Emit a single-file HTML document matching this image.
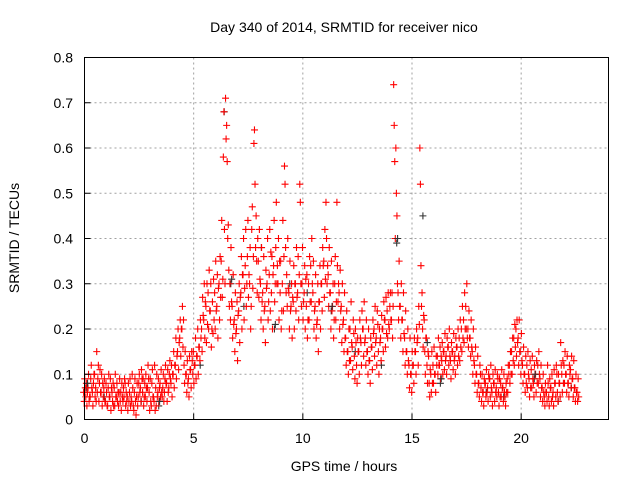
<!DOCTYPE html>
<html><head><meta charset="utf-8"><style>
html,body{margin:0;padding:0;background:#fff}
svg{display:block;font-family:"Liberation Sans",sans-serif}
</style></head><body>
<svg id="chart" width="640" height="480" viewBox="0 0 640 480">
<rect width="640" height="480" fill="#fff"/>
<text x="344" y="32" text-anchor="middle" font-size="14">Day 340 of 2014, SRMTID for receiver nico</text>
<g id="grid"></g>
<g id="pts"></g>
<rect x="84.5" y="57.5" width="524" height="362" fill="none" stroke="#000" stroke-width="1"/>
<g id="ticks"></g>
<text x="344" y="471" text-anchor="middle" font-size="14">GPS time / hours</text>
<text transform="translate(19,238) rotate(-90)" text-anchor="middle" font-size="14">SRMTID / TECUs</text>
</svg>
<script>
const xTicks=[0,5,10,15,20];
const yTicks=[0,0.1,0.2,0.3,0.4,0.5,0.6,0.7,0.8];
const yTickLabels=["0","0.1","0.2","0.3","0.4","0.5","0.6","0.7","0.8"];
const redStep=0.1;
const redValues=[
[.06,.04,.09,.07],[.05,.08,.03,.06],[.07,.1,.04,.05],[.05,.09,.12,.07],[.06,.03,.08,.1],[.1,.05,.07,.04],[.15,.06,.09,.12],[.04,.08,.11,.06],[.06,.1,.03,.08],[.05,.07,.09,.04],
[.04,.08,.06,.03],[.03,.07,.1,.05],[.05,.09,.02,.07],[.06,.04,.08,.03],[.07,.03,.1,.05],[.05,.08,.04,.06],[.03,.06,.09,.04],[.06,.02,.08,.05],[.04,.07,.05,.09],[.08,.03,.06,.04],
[.05,.02,.08,.04],[.06,.09,.03,.05],[.04,.1,.07,.03],[.02,.06,.09,.04],[.01,.05,.08,.03],[.05,.08,.1,.06],[.07,.04,.11,.09],[.06,.09,.03,.05],[.08,.05,.1,.07],[.04,.07,.12,.09],
[.06,.02,.09,.04],[.03,.08,.11,.05],[.05,.04,.12,.02],[.07,.03,.1,.05],[.06,.09,.04,.07],[.08,.05,.11,.06],[.05,.07,.1,.04],[.06,.09,.12,.08],[.08,.04,.11,.06],[.07,.1,.13,.09],
[.08,.12,.05,.1],[.1,.15,.07,.12],[.12,.18,.09,.14],[.15,.2,.11,.17],[.18,.22,.14,.2],[.2,.25,.16,.22],[.12,.08,.15,.1],[.1,.06,.13,.08],[.09,.05,.14,.11],[.11,.07,.15,.13],
[.1,.15,.08,.12],[.12,.18,.09,.14],[.14,.2,.1,.16],[.16,.13,.22,.18],[.2,.15,.27,.23],[.22,.3,.18,.26],[.25,.17,.3,.21],[.28,.2,.33,.24],[.24,.3,.16,.2],[.26,.19,.31,.22],
[.28,.2,.35,.24],[.25,.32,.18,.29],[.3,.22,.36,.27],[.35,.44,.27,.31],[.58,.68,.42,.3],[.71,.62,.65,.57],[.4,.43,.33,.25],[.3,.22,.38,.26],[.25,.18,.32,.21],[.22,.15,.28,.19],
[.2,.26,.13,.23],[.24,.3,.17,.27],[.28,.36,.2,.32],[.32,.4,.22,.29],[.34,.42,.25,.3],[.36,.44,.27,.32],[.3,.38,.2,.25],[.42,.47,.29,.36],[.61,.64,.52,.38],[.45,.35,.28,.4],
[.35,.27,.42,.31],[.3,.22,.38,.26],[.28,.2,.36,.24],[.25,.17,.33,.29],[.3,.4,.22,.26],[.32,.42,.24,.37],[.28,.36,.2,.32],[.34,.44,.26,.3],[.38,.48,.3,.34],[.3,.4,.22,.35],
[.28,.35,.2,.24],[.3,.44,.24,.36],[.56,.52,.38,.28],[.32,.25,.4,.29],[.28,.2,.35,.24],[.25,.3,.18,.27],[.26,.34,.2,.3],[.3,.24,.38,.27],[.28,.36,.22,.32],[.52,.48,.3,.25],
[.3,.38,.22,.26],[.28,.34,.2,.31],[.25,.32,.18,.22],[.3,.22,.36,.26],[.34,.26,.4,.3],[.28,.35,.2,.24],[.25,.32,.18,.21],[.22,.3,.15,.26],[.26,.34,.2,.3],[.3,.24,.38,.34],
[.35,.27,.42,.31],[.48,.4,.3,.34],[.32,.25,.38,.28],[.28,.2,.35,.24],[.25,.3,.18,.22],[.3,.36,.22,.26],[.48,.34,.26,.3],[.28,.2,.33,.24],[.25,.17,.3,.21],[.22,.15,.28,.18],
[.18,.12,.24,.15],[.15,.1,.2,.13],[.2,.13,.26,.17],[.16,.11,.22,.19],[.14,.09,.2,.17],[.12,.08,.18,.15],[.15,.1,.22,.18],[.17,.12,.24,.2],[.2,.14,.26,.17],[.18,.12,.22,.15],
[.15,.1,.2,.13],[.13,.08,.18,.16],[.16,.11,.22,.19],[.2,.14,.25,.17],[.18,.12,.24,.21],[.15,.1,.2,.17],[.18,.13,.23,.2],[.2,.15,.26,.22],[.22,.16,.27,.19],[.24,.18,.28,.21],
[.2,.25,.28,.22],[.22,.28,.18,.25],[.74,.65,.57,.4],[.6,.5,.45,.3],[.28,.22,.35,.25],[.25,.18,.3,.22],[.22,.15,.28,.19],[.18,.12,.24,.15],[.15,.1,.2,.13],[.12,.07,.18,.1],
[.1,.06,.15,.12],[.12,.08,.18,.15],[.15,.1,.2,.17],[.18,.12,.25,.21],[.6,.52,.34,.25],[.28,.2,.16,.23],[.22,.15,.1,.18],[.18,.12,.08,.15],[.14,.08,.05,.11],[.1,.06,.15,.08],
[.12,.08,.16,.1],[.1,.06,.14,.12],[.14,.1,.18,.12],[.12,.16,.09,.14],[.13,.17,.1,.15],[.15,.11,.19,.13],[.14,.1,.18,.16],[.16,.12,.2,.14],[.13,.09,.17,.15],[.15,.11,.19,.13],
[.14,.1,.18,.16],[.16,.12,.2,.14],[.18,.13,.22,.16],[.2,.15,.25,.18],[.22,.17,.28,.2],[.25,.2,.3,.18],[.2,.16,.24,.18],[.18,.14,.22,.16],[.15,.1,.2,.13],[.12,.08,.16,.1],
[.1,.06,.14,.08],[.08,.05,.12,.1],[.07,.04,.1,.06],[.06,.03,.09,.08],[.08,.05,.11,.06],[.07,.04,.1,.09],[.09,.05,.12,.07],[.06,.03,.1,.08],[.08,.04,.11,.06],[.07,.05,.1,.09],
[.06,.03,.09,.05],[.08,.05,.11,.07],[.07,.04,.1,.06],[.05,.03,.08,.06],[.09,.06,.12,.1],[.12,.08,.15,.1],[.15,.1,.18,.13],[.18,.12,.21,.16],[.2,.14,.22,.17],[.18,.12,.22,.15],
[.15,.1,.19,.13],[.12,.08,.16,.1],[.1,.06,.14,.08],[.12,.07,.15,.1],[.09,.05,.13,.07],[.11,.07,.14,.09],[.08,.05,.12,.1],[.1,.06,.13,.08],[.12,.08,.15,.1],[.09,.05,.12,.07],
[.07,.04,.1,.06],[.05,.03,.08,.06],[.06,.04,.12,.08],[.05,.03,.09,.07],[.07,.04,.1,.05],[.06,.03,.11,.08],[.08,.05,.12,.1],[.06,.04,.1,.08],[.08,.05,.17,.12],[.1,.06,.13,.08],
[.12,.08,.15,.1],[.1,.06,.14,.08],[.08,.05,.12,.1],[.11,.07,.14,.09],[.09,.05,.13,.07],[.07,.04,.1,.06],[.06,.04,.09,.05]
];
const blackTimes=[0.1,0.9,2.6,3.4,5.3,6.4,6.7,7.3,8.1,8.7,9.4,10.2,11.3,12.4,13.6,14.3,15.5,15.7,16.3,18.4,19.2,20.6,21.7,22.3];
const blackValues=[0.07,0.05,0.04,0.03,0.12,0.68,0.3,0.25,0.38,0.2,0.3,0.28,0.24,0.15,0.12,0.39,0.45,0.17,0.08,0.06,0.05,0.09,0.04,0.07];

const NS="http://www.w3.org/2000/svg";
const X0=84.5,XW=524,XMAX=24,Y0=419.5,YH=362,YMAX=0.8;
function xs(t){return X0+t/XMAX*XW;}
function ys(v){return Y0-v/YMAX*YH;}
const grid=document.getElementById('grid'),ticks=document.getElementById('ticks'),pts=document.getElementById('pts');
function ln(p,x1,y1,x2,y2,st,dash){const l=document.createElementNS(NS,'line');l.setAttribute('x1',x1);l.setAttribute('y1',y1);l.setAttribute('x2',x2);l.setAttribute('y2',y2);l.setAttribute('stroke',st);if(dash)l.setAttribute('stroke-dasharray',dash);p.appendChild(l);return l;}
function tx(p,x,y,s,anchor){const t=document.createElementNS(NS,'text');t.setAttribute('x',x);t.setAttribute('y',y);t.setAttribute('text-anchor',anchor);t.setAttribute('font-size','14');t.textContent=s;p.appendChild(t);return t;}
xTicks.forEach(v=>{const x=xs(v);
 if(v>0){const g=ln(grid,x,57.5,x,419.5,'#a0a0a0','2,3');
 
 }
 const tk=ln(ticks,x,419.5,x,413.5,'#000');
 
 
 const lb=tx(ticks,x,443,String(v),'middle');
 
 
});
yTicks.forEach((v,i)=>{const y=ys(v);
 if(i>0&&i<yTicks.length-1){const g=ln(grid,84.5,y,608.5,y,'#a0a0a0','2,3');
 
 }
 const tk=ln(ticks,84.5,y,90.5,y,'#000');
 
 
 const lb=tx(ticks,73,y+5,yTickLabels[i],'end');
 
 
});
function plus(t,v,col){const x=xs(t),y=ys(v);const p=document.createElementNS(NS,'path');
 p.setAttribute('d','M'+(x-3.5)+' '+y+'h7M'+x+' '+(y-3.5)+'v7');p.setAttribute('stroke',col);p.setAttribute('fill','none');p.setAttribute('stroke-width','1.1');pts.appendChild(p);return p;}
blackTimes.forEach((t,i)=>{
 const p=plus(t,blackValues[i],'#333');
 
 
});
redValues.forEach((grp,i)=>{grp.forEach((v,j)=>{
 const p=plus(i*redStep+(j/grp.length-0.4)*redStep,v,'#ff0000');
 
 
});});
blackTimes.forEach((t,i)=>{
 if(i%3!==0)return;
 const p=plus(t+0.04,blackValues[i]+0.01,'#333');
 
 
});
</script>
</body></html>
